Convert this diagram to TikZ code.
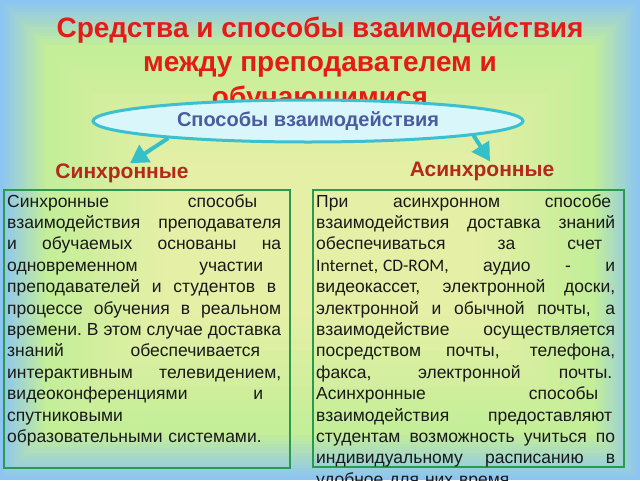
\documentclass[tikz,border=0pt]{standalone}
\usepackage{fontspec}
\setmainfont{Liberation Sans}
\newfontfamily\calibri{Carlito}
\usetikzlibrary{arrows.meta,shapes.geometric,positioning}

\definecolor{bgblue}{HTML}{8CC5F2}
\definecolor{bglime}{HTML}{C4EE98}
\definecolor{bgpale}{HTML}{E6EFA6}
\definecolor{titlered}{HTML}{E41B17}
\definecolor{labelred}{HTML}{B5281C}
\definecolor{waysblue}{HTML}{4C5B9E}
\definecolor{ellfill}{HTML}{D9F7FA}
\definecolor{ellcyan}{HTML}{3CBFCF}
\definecolor{arrowcyan}{HTML}{35BFC9}
\definecolor{boxgreen}{HTML}{2B9A4E}

\newcommand\fulline[1]{\makebox[\linewidth][s]{\spaceskip=0.278em plus 1fil\xspaceskip=\spaceskip\relax #1}}

\begin{document}
\begin{tikzpicture}[x=1pt,y=-1pt,
		titletext/.style={anchor=north,align=center,inner sep=0pt,text=titlered,font=\fontsize{28}{34.5}\selectfont\bfseries},
		wayellipse/.style={ellipse,draw=ellcyan,fill=ellfill,line width=3pt,minimum width=430pt,minimum height=42pt,inner sep=0pt,text=waysblue,font=\fontsize{20}{24}\selectfont\bfseries},
		kindlabel/.style={inner sep=0pt,text=labelred,font=\fontsize{21}{25}\selectfont\bfseries},
		wayarrow/.style={draw=arrowcyan,line width=4pt,-{Triangle[width=20pt,length=18pt]}},
		textbox/.style={draw=boxgreen,line width=1.5pt,anchor=north west,inner sep=0pt},
		bodytext/.style={inner sep=0pt,align=left,text=black!90,font=\fontsize{17.5}{21.4}\selectfont}]
		%%%%% START %%%%%
		
		\useasboundingbox (0,0) rectangle (640,480);
		\clip (0,0) rectangle (640,480);
		
		% background bands
		\foreach \i in {0,...,15}{
			\pgfmathsetmacro\p{\i*100/15}
			\fill[bglime!\p!bgblue] (\i*3,\i*3) rectangle (640-\i*3,480-\i*3);
		}
		\foreach \i in {1,...,10}{
			\pgfmathsetmacro\p{\i*10}
			\fill[bgpale!\p!bglime] (45+\i*12,45+\i*12) rectangle (595-\i*12,435-\i*12);
		}
		
		\node[titletext] (title) at (320,16) {Средства и способы взаимодействия\\между преподавателем и\\обучающимися};
		
		\node[wayellipse] (ways) at (308,121) {Способы взаимодействия};
		\node[kindlabel] (syncl) at (122,173) {Синхронные};
		\node[kindlabel] (asyncl) at (482,171) {Асинхронные};
		
		\draw[wayarrow] (ways.187) -- ([xshift=8pt]syncl.north);
		\draw[wayarrow] (ways.355) -- ([xshift=8pt]asyncl.north);
		
		\node[textbox,minimum width=286pt,minimum height=278pt] (syncbox) at (3,189) {};
		\node[textbox,minimum width=311pt,minimum height=277pt] (asyncbox) at (312,189) {};
		
		\node[bodytext,text width=274pt,below right=5pt and 4pt of syncbox.north west] (synctext) {%
			\fulline{Синхронные способы\hspace{24pt}}\\
			\fulline{взаимодействия преподавателя}\\
			\fulline{и обучаемых основаны на}\\
			\fulline{одновременном участии\hspace{18pt}}\\
			\fulline{преподавателей и студентов в\hspace{5pt}}\\
			\fulline{процессе обучения в реальном}\\
			\fulline{времени. В этом случае доставка}\\
			\fulline{знаний обеспечивается\hspace{21pt}}\\
			\fulline{интерактивным телевидением,}\\
			\fulline{видеоконференциями и\hspace{18pt}}\\
			спутниковыми\\
			образовательными системами.};
		
		\node[bodytext,text width=299pt,below right=5pt and 4pt of asyncbox.north west] (asynctext) {%
			\fulline{При асинхронном способе\hspace{4pt}}\\
			\fulline{взаимодействия доставка знаний}\\
			\fulline{обеспечиваться за счет\hspace{13pt}}\\
			\fulline{{\calibri\mbox{Internet, CD-ROM,}} аудио - и}\\
			\fulline{видеокассет, электронной доски,}\\
			\fulline{электронной и обычной почты, а}\\
			\fulline{взаимодействие осуществляется}\\
			\fulline{посредством почты, телефона,}\\
			\fulline{факса, электронной почты.\hspace{3pt}}\\
			\fulline{Асинхронные способы\hspace{17pt}}\\
			\fulline{взаимодействия предоставляют\hspace{3pt}}\\
			\fulline{студентам возможность учиться по}\\
			\fulline{индивидуальному расписанию в}\\
			удобное для них время.};
		
		%%%%% END %%%%%
\end{tikzpicture}
\end{document}
